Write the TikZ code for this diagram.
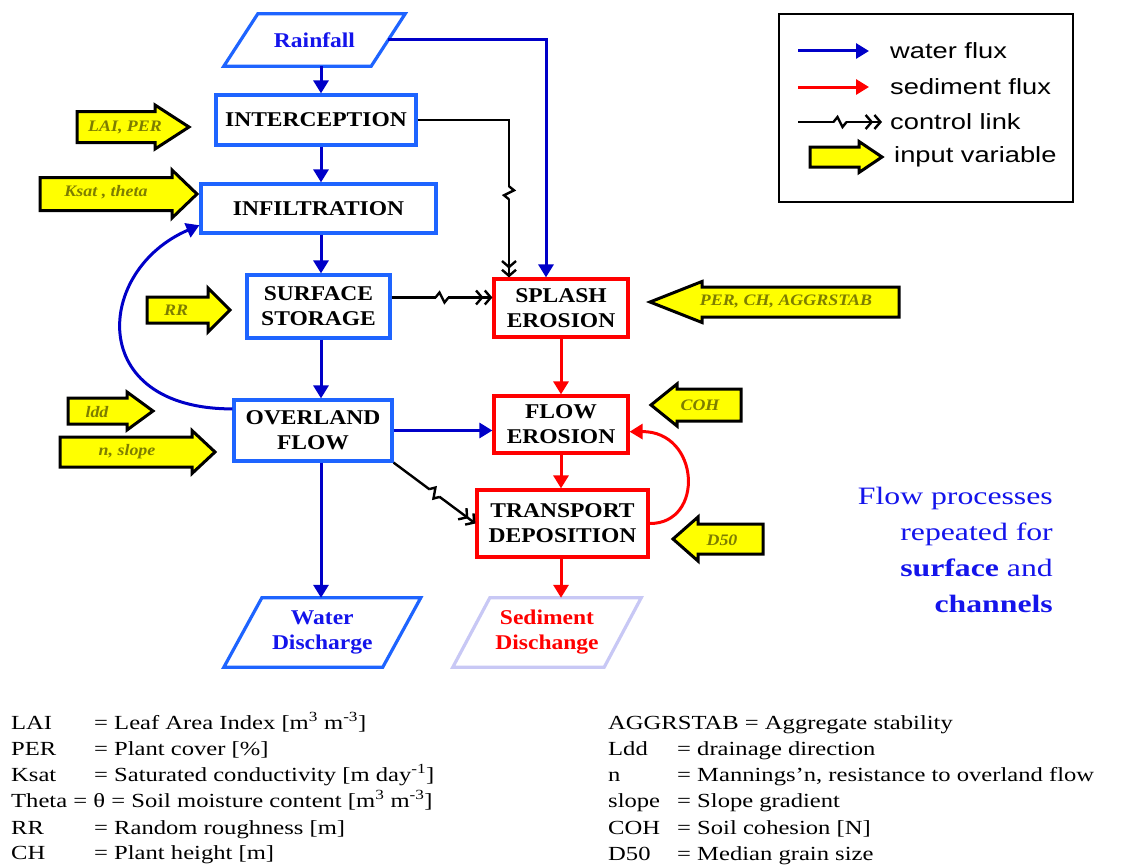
\documentclass[tikz,border=0pt]{standalone}
\usepackage{fontspec}
\setmainfont{Liberation Serif}
\newfontfamily\bxfont[FakeStretch=1.12]{Liberation Serif}
\newfontfamily\txfont[FakeStretch=1.23]{Liberation Serif}
\newfontfamily\lgfont[FakeStretch=1.24]{Liberation Sans}
\newfontfamily\rtfont[FakeStretch=1.27]{Liberation Serif}
\usetikzlibrary{arrows.meta,decorations.markings,calc}
\definecolor{boxblue}{RGB}{30,100,255}
\definecolor{wblue}{RGB}{0,0,200}
\definecolor{rfblue}{RGB}{20,20,235}
\definecolor{sred}{RGB}{255,0,0}
\definecolor{lav}{RGB}{200,200,245}
\definecolor{olivetxt}{RGB}{125,125,0}
\definecolor{yel}{RGB}{255,255,0}
\newcommand\yshapearrow[6]{% x1 x2 x3 yc bh hh
  \draw[yarrow] (#1,#4-#5) -- (#2,#4-#5) -- (#2,#4-#6) -- (#3,#4) -- (#2,#4+#6) -- (#2,#4+#5) -- (#1,#4+#5) -- cycle;}
\begin{document}
\begin{tikzpicture}[x=1pt,y=-1pt,
  wbox/.style={draw=boxblue, line width=3.2pt, fill=white, inner sep=0pt, align=center,
     font=\bxfont\bfseries\fontsize{21}{25}\selectfont},
  rbox/.style={wbox, draw=sred},
  pg/.style={inner sep=0pt, align=center, font=\bxfont\bfseries\fontsize{21}{25}\selectfont},
  water/.style={draw=wblue, line width=3pt, -{Triangle[length=13pt,width=15pt]}},
  sed/.style={water, draw=sred},
  ctrl/.style={draw=black, line width=2.4pt, -{Straight Barb[length=6pt,width=14pt]Straight Barb[length=6pt,width=14pt]}},
  zig/.style={postaction={decorate,decoration={markings,mark=at position #1 with {
      \fill[white] (-6pt,-2.4pt) rectangle (6pt,2.4pt);
      \draw[black,line width=2.4pt,-] (-6.5pt,0) -- (-2.5pt,5pt) -- (2.5pt,-5pt) -- (6.5pt,0);}}}},
  yarrow/.style={fill=yel, draw=black, line width=3pt, line join=miter},
  ytext/.style={inner sep=0pt, text=olivetxt, font=\bxfont\bfseries\itshape\fontsize{16}{18}\selectfont},
  lgtext/.style={inner sep=0pt, anchor=west, font=\lgfont\fontsize{22}{24}\selectfont},
  bt/.style={inner sep=0pt, anchor=base west, font=\txfont\fontsize{20}{24}\selectfont}
]
\useasboundingbox (0,0) rectangle (1145,867);
\clip (0,0) rectangle (1145,867);
\fill[white] (0,0) rectangle (1145,867);

% ---- process boxes
\node[pg, text=rfblue, minimum width=147, minimum height=52] (rf) at (314.5,40) {Rainfall};
\draw[boxblue, line width=3.2pt, line join=miter] ([xshift=17pt]rf.north west) -- ([xshift=17pt]rf.north east) -- ([xshift=-17pt]rf.south east) -- ([xshift=-17pt]rf.south west) -- cycle;
\node[wbox, minimum width=200, minimum height=50] (ic) at (316,120) {INTERCEPTION};
\node[wbox, minimum width=235, minimum height=49] (inf) at (318.5,208.5) {INFILTRATION};
\node[wbox, minimum width=143, minimum height=63] (ss) at (318.5,306.5) {SURFACE\\STORAGE};
\node[wbox, minimum width=158, minimum height=61] (ov) at (313,430.5) {OVERLAND\\FLOW};
\node[pg, text=rfblue, minimum width=158.5, minimum height=69] (wd) at (322.3,632.5) {Water\\Discharge};
\draw[boxblue, line width=3.2pt, line join=miter] ([xshift=19pt]wd.north west) -- ([xshift=19pt]wd.north east) -- ([xshift=-19pt]wd.south east) -- ([xshift=-19pt]wd.south west) -- cycle;

\node[rbox, minimum width=134, minimum height=58] (sp) at (561,308) {SPLASH\\EROSION};
\node[rbox, minimum width=134, minimum height=57] (fe) at (561,424.5) {FLOW\\EROSION};
\node[rbox, minimum width=171, minimum height=67] (tr) at (562.5,523.5) {TRANSPORT\\DEPOSITION};
\node[pg, text=sred, minimum width=151, minimum height=69] (sd) at (547,632.5) {Sediment\\Dischange};
\draw[lav, line width=3.2pt, line join=miter] ([xshift=18.5pt]sd.north west) -- ([xshift=18.5pt]sd.north east) -- ([xshift=-18.5pt]sd.south east) -- ([xshift=-18.5pt]sd.south west) -- cycle;

% ---- water flux
\coordinate (xw) at (321,0);
\draw[water] (rf.south -| xw) -- (ic.north -| xw);
\draw[water] (ic.south -| xw) -- (inf.north -| xw);
\draw[water] (inf.south -| xw) -- (ss.north -| xw);
\draw[water] (ss.south -| xw) -- (ov.north -| xw);
\draw[water] (ov.south -| xw) -- (wd.north -| xw);
\draw[water] (rf.east) -| ([xshift=-15pt]sp.north);
\draw[water] (ov.east) -- (ov.east -| fe.west);
\draw[water] (ov.165) .. controls (85,409) and (95,270) .. (inf.188);

% ---- sediment flux
\draw[sed] (sp.south) -- (fe.north);
\draw[sed] (fe.south) -- (tr.north -| fe.south);
\draw[sed] (tr.south -| fe.south) -- (sd.north -| fe.south);
\draw[sed] (tr.east) .. controls (705,524) and (700,431) .. (fe.-6);

% ---- control links
\draw[ctrl, zig=0.66] (ic.east) -| ([xshift=-52pt]sp.north);
\draw[ctrl, zig=0.5] ([yshift=9pt]ss.east) -- ([yshift=9pt]ss.east -| sp.west);
\draw[ctrl, zig=0.5] (ov.south east) -- (tr.west);

% ---- input variables
\yshapearrow{77}{155}{189}{127}{15.5}{22}
\node[ytext] (in1) at (125,127) {LAI, PER};
\yshapearrow{40}{172}{197}{194}{16.5}{24}
\node[ytext] (in2) at (106,192) {Ksat , theta};
\yshapearrow{147}{208}{230}{310}{13}{22}
\node[ytext] (in3) at (176,310) {RR};
\yshapearrow{68}{127}{153}{411}{13}{19}
\node[ytext] (in4) at (97,412) {ldd};
\yshapearrow{60}{192}{215}{452}{15}{21.5}
\node[ytext] (in5) at (127,452) {n, slope};
\yshapearrow{899}{702}{650}{302}{15}{20.5}
\node[ytext] (in6) at (786,301) {PER, CH, AGGRSTAB};
\yshapearrow{741}{677}{651}{405}{16}{21}
\node[ytext] (in7) at (700,405) {COH};
\yshapearrow{763}{698}{673}{539}{15}{22}
\node[ytext] (in8) at (722,540) {D50};

% ---- legend
\node[draw=black, line width=2.4pt, minimum width=294, minimum height=188, inner sep=0pt] (leg) at (926,108) {};
\coordinate (lw1) at (798,51); \coordinate (lw2) at (869,51);
\draw[water] (lw1) -- (lw2);
\node[lgtext] (lwt) at (890,51) {water flux};
\coordinate (ls1) at (798,87); \coordinate (ls2) at (869,87);
\draw[sed] (ls1) -- (ls2);
\node[lgtext] (lst) at (890,87) {sediment flux};
\coordinate (lc1) at (798,122); \coordinate (lc2) at (882,122);
\draw[ctrl, zig=0.5] (lc1) -- (lc2);
\node[lgtext] (lct) at (890,122) {control link};
\yshapearrow{810}{859}{882}{157}{10}{15.5}
\node[lgtext] (lit) at (894,157) {input variable};

% ---- note
\node[inner sep=0pt, anchor=north east, align=right, text=rfblue,
      font=\rtfont\fontsize{25}{36}\selectfont] (note) at (1053,487)
  {Flow processes\\repeated for\\\textbf{surface} and\\\textbf{channels}};

% ---- abbreviations
\node[bt] (a1) at (11,729) {LAI};   \node[bt] (b1) at (94,729) {= Leaf Area Index [m\textsuperscript{3} m\textsuperscript{-3}]};
\node[bt] (a2) at (11,755) {PER};   \node[bt] (b2) at (94,755) {= Plant cover [\%]};
\node[bt] (a3) at (11,781) {Ksat};  \node[bt] (b3) at (94,781) {= Saturated conductivity [m day\textsuperscript{-1}]};
\node[bt] (a4) at (11,807) {Theta = θ = Soil moisture content [m\textsuperscript{3} m\textsuperscript{-3}]};
\node[bt] (a5) at (11,834) {RR};    \node[bt] (b5) at (94,834) {= Random roughness [m]};
\node[bt] (a6) at (11,859) {CH};    \node[bt] (b6) at (94,859) {= Plant height [m]};

\node[bt] (c1) at (608,729) {AGGRSTAB = Aggregate stability};
\node[bt] (c2) at (608,755) {Ldd};   \node[bt] (d2) at (677,755) {= drainage direction};
\node[bt] (c3) at (608,781) {n};     \node[bt] (d3) at (677,781) {= Mannings’n, resistance to overland flow};
\node[bt] (c4) at (608,807) {slope}; \node[bt] (d4) at (677,807) {= Slope gradient};
\node[bt] (c5) at (608,834) {COH};   \node[bt] (d5) at (677,834) {= Soil cohesion [N]};
\node[bt] (c6) at (608,860) {D50};   \node[bt] (d6) at (677,860) {= Median grain size};
\end{tikzpicture}
\end{document}
